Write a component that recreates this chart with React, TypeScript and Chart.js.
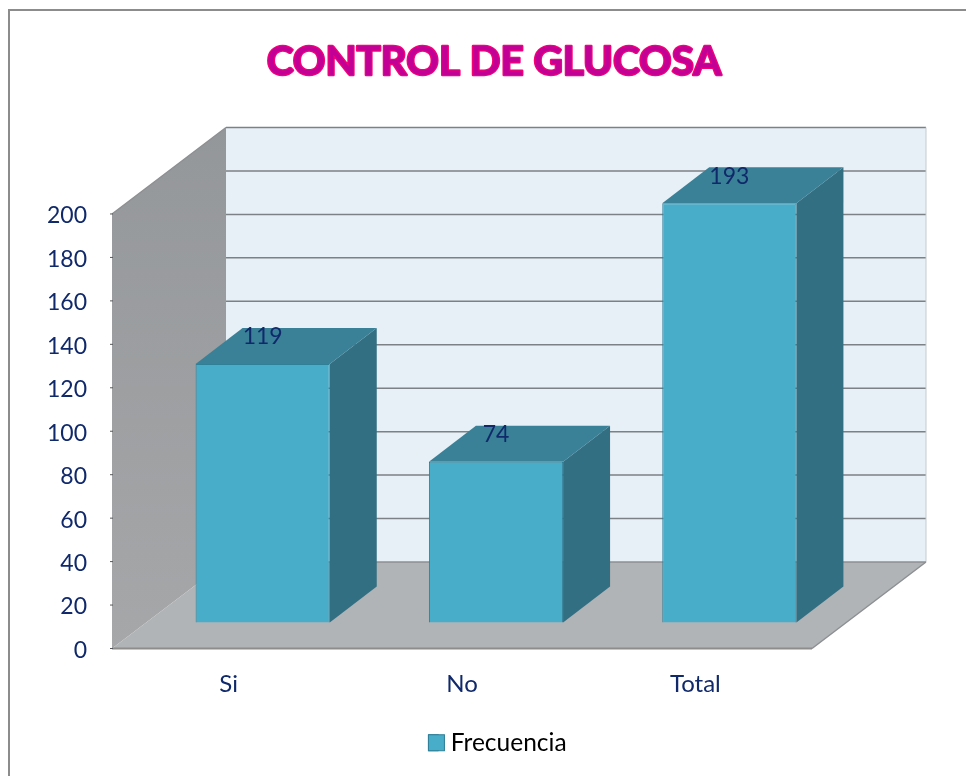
import React, { useEffect, useRef } from "react";
import { Chart, registerables } from "chart.js";

Chart.register(...registerables);

const categories = ["Si", "No", "Total"];
const seriesName = "Frecuencia";
const frecuencia = [119, 74, 193];
const chartTitle = "CONTROL DE GLUCOSA";

const FONT = "Lato, Carlito, sans-serif";
const NAVY = "#10296b";
const BAR_COLOR = "#48adc9";
const BAR_EDGE = "#2f7f96";
const WALL_DX = 114;
const WALL_DY = -86.5;
const BAR_DX = 34;
const BAR_DY = -26;
const DEPTH_DX = 47;
const DEPTH_DY = -36;

function poly(ctx: CanvasRenderingContext2D, pts: number[][], fill: string | CanvasGradient, stroke?: string, lw = 1) {
  ctx.beginPath();
  pts.forEach((p, i) => (i ? ctx.lineTo(p[0], p[1]) : ctx.moveTo(p[0], p[1])));
  ctx.closePath();
  ctx.fillStyle = fill;
  ctx.fill();
  if (stroke) {
    ctx.strokeStyle = stroke;
    ctx.lineWidth = lw;
    ctx.stroke();
  }
}

const scene3d = {
  id: "scene3d",
  afterLayout(chart: any) {
    // title and legend sit off-centre in the reference
    chart.titleBlock.left = 28;
    chart.titleBlock.right = 960;
    chart.legend.left = 29;
    chart.legend.right = 966;
  },
  beforeDraw(chart: any) {
    const ctx: CanvasRenderingContext2D = chart.ctx;
    ctx.save();
    ctx.strokeStyle = "#8c8c8c";
    ctx.lineWidth = 2;
    ctx.strokeRect(9, 10, 1100, 1100);
    ctx.restore();
  },
  beforeDatasetsDraw(chart: any) {
    const ctx: CanvasRenderingContext2D = chart.ctx;
    const { left, right } = chart.chartArea;
    const y = chart.scales.y;
    const top = y.getPixelForValue(y.max);
    const bottom = y.getPixelForValue(0);
    ctx.save();
    // back wall
    poly(ctx, [[left + WALL_DX, top + WALL_DY], [right + WALL_DX, top + WALL_DY], [right + WALL_DX, bottom + WALL_DY], [left + WALL_DX, bottom + WALL_DY]], "#e8f0f7");
    // left wall
    const g = ctx.createLinearGradient(0, top + WALL_DY, 0, bottom);
    g.addColorStop(0, "#94979a");
    g.addColorStop(1, "#a6a7a9");
    poly(ctx, [[left, top], [left + WALL_DX, top + WALL_DY], [left + WALL_DX, bottom + WALL_DY], [left, bottom]], g);
    // floor
    poly(ctx, [[left, bottom], [left + WALL_DX, bottom + WALL_DY], [right + WALL_DX, bottom + WALL_DY], [right, bottom]], "#b1b4b7");
    // grid lines on the back wall, from the axis ticks
    ctx.strokeStyle = "#7c8186";
    ctx.lineWidth = 1.5;
    y.ticks.forEach((t: any) => {
      if (t.value === 0) return;
      const py = y.getPixelForValue(t.value) + WALL_DY;
      ctx.beginPath();
      ctx.moveTo(left + WALL_DX, py);
      ctx.lineTo(right + WALL_DX, py);
      ctx.stroke();
    });
    // wall and floor edges
    ctx.strokeStyle = "#c3cbd2";
    ctx.lineWidth = 1;
    ctx.beginPath();
    ctx.moveTo(right + WALL_DX, top + WALL_DY);
    ctx.lineTo(right + WALL_DX, bottom + WALL_DY);
    ctx.stroke();
    ctx.strokeStyle = "#8d8f92";
    ctx.lineWidth = 1.5;
    ctx.beginPath();
    ctx.moveTo(left, top);
    ctx.lineTo(left + WALL_DX, top + WALL_DY);
    ctx.moveTo(right, bottom);
    ctx.lineTo(right + WALL_DX, bottom + WALL_DY);
    ctx.moveTo(left + WALL_DX, bottom + WALL_DY);
    ctx.lineTo(right + WALL_DX, bottom + WALL_DY);
    ctx.stroke();
    ctx.strokeStyle = "#8f8c8c";
    ctx.lineWidth = 2;
    ctx.beginPath();
    ctx.moveTo(left, bottom);
    ctx.lineTo(right, bottom);
    ctx.stroke();
    // tick marks at the front of the left wall
    ctx.strokeStyle = "#55585c";
    ctx.lineWidth = 1;
    y.ticks.forEach((t: any) => {
      const py = y.getPixelForValue(t.value);
      ctx.beginPath();
      ctx.moveTo(left - 2, py);
      ctx.lineTo(left + 1, py);
      ctx.stroke();
    });
    ctx.restore();
  },
  beforeDatasetDraw(chart: any, args: any) {
    const ctx: CanvasRenderingContext2D = chart.ctx;
    const meta = chart.getDatasetMeta(args.index);
    ctx.save();
    ctx.translate(BAR_DX, BAR_DY);
    meta.data.forEach((bar: any) => {
      const l = bar.x - bar.width / 2;
      const r = bar.x + bar.width / 2;
      const t = bar.y;
      const b = bar.base;
      poly(ctx, [[r, t], [r + DEPTH_DX, t + DEPTH_DY], [r + DEPTH_DX, b + DEPTH_DY], [r, b]], "#336f82");
      poly(ctx, [[l, t], [l + DEPTH_DX, t + DEPTH_DY], [r + DEPTH_DX, t + DEPTH_DY], [r, t]], "#3a8198");
    });
  },
  afterDatasetDraw(chart: any) {
    chart.ctx.restore();
  },
  afterDatasetsDraw(chart: any) {
    const ctx: CanvasRenderingContext2D = chart.ctx;
    const meta = chart.getDatasetMeta(0);
    ctx.save();
    ctx.font = `23px ${FONT}`;
    ctx.fillStyle = NAVY;
    ctx.textAlign = "center";
    ctx.textBaseline = "middle";
    meta.data.forEach((bar: any, i: number) => {
      ctx.fillText(String(frecuencia[i]), bar.x + BAR_DX, bar.y + BAR_DY - 27);
    });
    ctx.restore();
  },
  afterDraw(chart: any) {
    const ctx: CanvasRenderingContext2D = chart.ctx;
    // legend swatch: the reference has a tighter gap between swatch and text than Chart.js allows
    const lg = chart.legend;
    const lx = (lg.left + lg.right) / 2 - lg.lineWidths[0] / 2 + lg.options.labels.padding / 2;
    const hit = lg.legendHitBoxes[0];
    ctx.save();
    ctx.fillStyle = BAR_COLOR;
    ctx.strokeStyle = BAR_EDGE;
    ctx.lineWidth = 1;
    const ly = hit.top + (hit.height - 16) / 2;
    ctx.fillRect(lx, ly, 16, 16);
    ctx.strokeRect(lx, ly, 16, 16);
    const tb = chart.titleBlock;
    const f = tb.options.font;
    ctx.font = `bold ${f.size}px ${FONT}`;
    ctx.textAlign = "center";
    ctx.textBaseline = "middle";
    ctx.lineJoin = "round";
    ctx.lineWidth = 2.5;
    ctx.strokeStyle = "#f80078";
    const cx = (tb.left + tb.right) / 2;
    const cy = tb.top + tb.options.padding.top + (f.size * 1.2) / 2;
    ctx.strokeText(chartTitle, cx, cy);
    ctx.fillStyle = "#c20096";
    ctx.fillText(chartTitle, cx, cy);
    ctx.restore();
  },
};

export default function App() {
  const ref = useRef<HTMLCanvasElement>(null);
  useEffect(() => {
    document.body.style.margin = "0";
    const chart = new Chart(ref.current!, {
      type: "bar",
      data: {
        labels: categories,
        datasets: [
          {
            label: seriesName,
            data: frecuencia,
            backgroundColor: BAR_COLOR,
            borderColor: BAR_EDGE,
            borderWidth: 1,
            categoryPercentage: 1,
            barPercentage: 0.575,
            clip: false,
          } as any,
        ],
      },
      options: {
        animation: false,
        responsive: false,
        layout: { autoPadding: false, padding: { left: 0, right: 154, top: 0, bottom: 11 } },
        scales: {
          x: {
            grid: { display: false },
            border: { display: false },
            ticks: { color: NAVY, font: { family: FONT, size: 24 }, padding: 13, maxRotation: 0 },
            afterFit: (s: any) => {
              s.height = 72;
            },
          },
          y: {
            min: 0,
            max: 200,
            grid: { display: false, drawTicks: false, tickLength: 0 },
            border: { display: false },
            ticks: { stepSize: 20, color: NAVY, font: { family: FONT, size: 23 }, padding: 25, labelOffset: 2 },
            afterFit: (s: any) => {
              s.width = 112;
            },
          },
        },
        plugins: {
          title: {
            display: true,
            text: chartTitle,
            color: "#c20096",
            font: { family: FONT, size: 40.4, weight: "bold" },
            padding: { top: 38, bottom: 127.5 },
          },
          legend: {
            display: true,
            position: "bottom",
            labels: {
              color: "#000000",
              font: { family: FONT, size: 24.5 },
              boxWidth: 10,
              boxHeight: 16,
              padding: 10,
            },
          },
          tooltip: { enabled: false },
        },
      },
      plugins: [scene3d],
    } as any);
    return () => chart.destroy();
  }, []);
  return <canvas ref={ref} width={966} height={776} style={{ display: "block" }} />;
}
